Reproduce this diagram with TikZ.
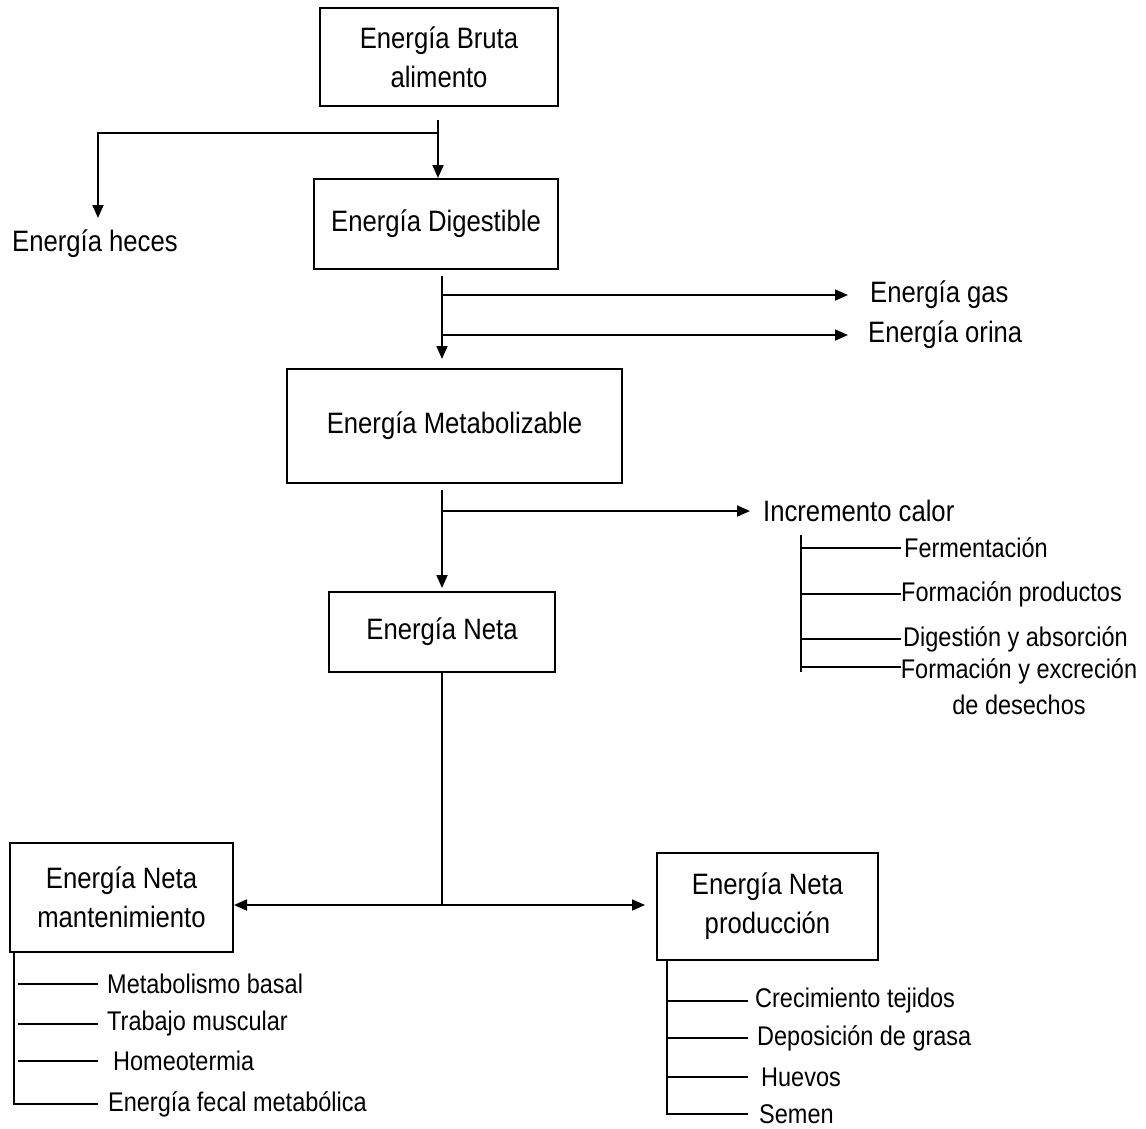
\documentclass[tikz,border=0pt]{standalone}
\usepackage{fontspec}
\setmainfont{Liberation Sans}[FakeStretch=0.87]
\usetikzlibrary{arrows.meta}

\tikzset{
  caja/.style={draw, line width=2pt, align=center, font=\fontsize{29.5}{39}\selectfont},
  etiq/.style={inner sep=0pt, anchor=west, font=\fontsize{29.5}{36}\selectfont},
  item/.style={inner sep=0pt, anchor=west, font=\fontsize{27}{36}\selectfont},
  flecha/.style={line width=1.8pt, -{Triangle[length=13pt,width=11pt]}},
  rama/.style={line width=1.6pt},
}

\begin{document}
\begin{tikzpicture}[x=1pt,y=-1pt]
\useasboundingbox (0,0) rectangle (1146,1128);

% cajas
\node[caja, minimum width=238pt, minimum height=98pt] (bruta) at (439,57) {Energía Bruta\\alimento};
\node[caja, minimum width=244pt, minimum height=90pt] (digest) at (436,224) {Energía Digestible};
\node[caja, minimum width=335pt, minimum height=114pt] (metab) at (454.5,426) {Energía Metabolizable};
\node[caja, minimum width=226pt, minimum height=80pt] (neta) at (442,632) {Energía Neta};
\node[caja, minimum width=223pt, minimum height=109pt] (mant) at (121.5,897.5) {Energía Neta\\mantenimiento};
\node[caja, minimum width=221pt, minimum height=107pt] (prod) at (767.5,906.5) {Energía Neta\\producción};

% salidas
\node[etiq] (heces) at (12,244) {Energía heces};
\node[etiq] (gas) at (870,295) {Energía gas};
\node[etiq] (orina) at (868,335) {Energía orina};
\node[etiq] (calor) at (763,511) {Incremento calor};

\node[item] (ferm) at (904,548) {Fermentación};
\node[item] (form) at (901,594) {Formación productos};
\node[item] (dige) at (903,639) {Digestión y absorción};
\node[item, anchor=north, align=center] (excr) at (1019,658) {Formación y excreción\\de desechos};

\node[item] (basal) at (107,984) {Metabolismo basal};
\node[item] (musc) at (107,1024) {Trabajo muscular};
\node[item] (homeo) at (113,1061) {Homeotermia};
\node[item] (fecal) at (108,1104) {Energía fecal metabólica};

\node[item] (crec) at (755,1001) {Crecimiento tejidos};
\node[item] (grasa) at (757,1038) {Deposición de grasa};
\node[item] (huevo) at (761,1077) {Huevos};
\node[item] (semen) at (759,1114) {Semen};

% flechas
\coordinate (s1) at (438,120);
\coordinate (s1b) at (438,133);
\coordinate (hecesin) at (98,218);
\draw[flecha] (s1) -- (s1 |- digest.north);
\draw[flecha] (s1b) -| (hecesin);

\coordinate (s2) at (442,276);
\draw[flecha, shorten >=9pt] (s2) -- (s2 |- metab.north);
\draw[flecha, shorten >=22pt] (s2 |- gas.west) -- (gas.west);
\draw[flecha, shorten >=20pt] (s2 |- orina.west) -- (orina.west);

\coordinate (s3) at (442,490);
\draw[flecha, shorten >=3pt] (s3) -- (s3 |- neta.north);
\draw[flecha, shorten >=13pt] (s3 |- calor.west) -- (calor.west);

\coordinate (s4) at (442,905);
\draw[rama] (neta.south) -- (s4);
\draw[flecha] (s4) -- (s4 -| mant.east);
\draw[flecha, shorten >=11pt] (s4) -- (s4 -| prod.west);

% incremento calor
\coordinate (calr) at (801,535);
\coordinate (calfin) at (801,667);
\draw[rama] (calr) -- ++(0,137);
\foreach \n in {ferm,form,dige}
  \draw[rama] (calr |- \n.west) -- ++(100,0);
\draw[rama] (calfin) -- ++(100,0);

% mantenimiento
\coordinate (mantr) at (14,953);
\draw[rama] (mantr) |- ([xshift=-10pt]fecal.west);
\foreach \n in {basal,musc,homeo}
  \draw[rama] ([xshift=4pt]mantr |- \n.west) -- ++(80,0);

% produccion
\coordinate (prodr) at (667,960);
\draw[rama] (prodr) |- ([xshift=-11pt]semen.west);
\foreach \n in {crec,grasa,huevo}
  \draw[rama] (prodr |- \n.west) -- ++(81,0);

\end{tikzpicture}
\end{document}
